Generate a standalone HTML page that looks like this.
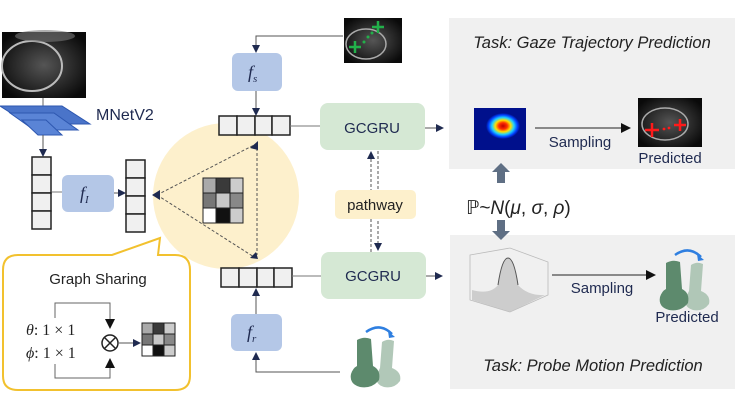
<!DOCTYPE html>
<html><head><meta charset="utf-8"><style>
html,body{margin:0;padding:0;background:#fff;}
svg{display:block;}
text{font-family:"Liberation Sans","DejaVu Sans",sans-serif;}
.m{font-family:"Liberation Serif","DejaVu Serif",serif;font-style:italic;}
</style></head><body>
<svg width="748" height="420" viewBox="0 0 748 420" xmlns="http://www.w3.org/2000/svg">
<defs>
<marker id="ah" markerWidth="8" markerHeight="8" refX="7" refY="4" orient="auto" markerUnits="userSpaceOnUse"><path d="M0,0 L8,4 L0,8 z" fill="#1f2a50"/></marker>
<marker id="ab" markerWidth="10" markerHeight="10" refX="9" refY="5" orient="auto" markerUnits="userSpaceOnUse"><path d="M0,0 L10,5 L0,10 z" fill="#111"/></marker>
<radialGradient id="heat"><stop offset="0" stop-color="#c00000"/><stop offset="0.25" stop-color="#ff3000"/><stop offset="0.45" stop-color="#ffe000"/><stop offset="0.65" stop-color="#20d0ff"/><stop offset="0.85" stop-color="#0040ff"/><stop offset="1" stop-color="#00108c"/></radialGradient>
<radialGradient id="us" cx="0.5" cy="0.5" r="0.6"><stop offset="0" stop-color="#555"/><stop offset="1" stop-color="#0a0a0a"/></radialGradient>
<g id="probe">
 <path d="M32,14 Q38,10 44,13 L42,40 Q52,44 50,53 Q44,61 34,59 Q24,56 27,46 L30,40 Z" fill="#a9c2b0" opacity="0.9"/>
 <path d="M7,12 Q14,8 21,11 L23,38 Q31,42 29,52 Q22,61 10,59 Q-1,56 1,46 Q3,40 7,38 Z" fill="#5d8a6d"/>
 <path d="M16,4 Q30,-6 42,6" fill="none" stroke="#2f7fe0" stroke-width="2.5"/>
 <path d="M38,3 L45,9 L39,10 Z" fill="#2f7fe0"/>
</g>
</defs>

<rect x="449" y="18" width="286" height="151" fill="#f0f0f0"/>
<rect x="450" y="235" width="285" height="154" fill="#f0f0f0"/>

<rect x="2" y="32" width="84" height="66" fill="url(#us)"/>
<ellipse cx="32" cy="66" rx="30" ry="25" fill="none" stroke="#bbb" stroke-width="2"/>
<ellipse cx="45" cy="36" rx="30" ry="6" fill="#777" opacity="0.6"/>
<line x1="43" y1="98" x2="43" y2="106" stroke="#666"/>

<polygon points="0,106 62,106 90,124 28,124" fill="#4a74c9" stroke="#2d57b0"/>
<polygon points="10,113 54,113 78,130 34,130" fill="#5a84d6" stroke="#2d57b0"/>
<polygon points="22,120 46,120 62,135 38,135" fill="#5a84d6" stroke="#2d57b0"/>
<text x="96" y="120" font-size="16" fill="#1f2a50">MNetV2</text>
<line x1="43" y1="135" x2="43" y2="156" stroke="#555" marker-end="url(#ah)"/>

<g fill="#f0f0f0" stroke="#222" stroke-width="1.5">
<rect x="32" y="157" width="19" height="18"/><rect x="32" y="175" width="19" height="18"/><rect x="32" y="193" width="19" height="18"/><rect x="32" y="211" width="19" height="18"/>
</g>
<line x1="52" y1="192" x2="62" y2="192" stroke="#777"/>
<rect x="62" y="175" width="52" height="37" rx="6" fill="#b4c7e7"/>
<text x="80" y="199" class="m" font-size="18" fill="#1f2a50">f<tspan font-size="11" dy="4">I</tspan></text>
<line x1="114" y1="193" x2="125" y2="193" stroke="#555" marker-end="url(#ah)"/>
<g fill="#f0f0f0" stroke="#222" stroke-width="1.5">
<rect x="126" y="160" width="19" height="18"/><rect x="126" y="178" width="19" height="18"/><rect x="126" y="196" width="19" height="18"/><rect x="126" y="214" width="19" height="18"/>
</g>

<circle cx="226" cy="196" r="73" fill="#fdf0cc"/>
<g stroke="#555" stroke-dasharray="3,2" stroke-width="1">
<line x1="157" y1="195" x2="254" y2="145"/><line x1="157" y1="195" x2="254" y2="257"/><line x1="257" y1="148" x2="257" y2="255"/>
</g>
<polygon points="152,195 160,190 160,200" fill="#1f2a50"/>
<polygon points="258,141 258,150 250,148" fill="#1f2a50"/>
<polygon points="258,259 256,252 250,258" fill="#1f2a50"/>
<g stroke="#222" stroke-width="1">
<rect x="203" y="178" width="13" height="15" fill="#aaa"/><rect x="216" y="178" width="14" height="15" fill="#3a3a3a"/><rect x="230" y="178" width="13" height="15" fill="#ccc"/>
<rect x="203" y="193" width="13" height="15" fill="#777"/><rect x="216" y="193" width="14" height="15" fill="#c8c8c8"/><rect x="230" y="193" width="13" height="15" fill="#888"/>
<rect x="203" y="208" width="13" height="15" fill="#fff"/><rect x="216" y="208" width="14" height="15" fill="#111"/><rect x="230" y="208" width="13" height="15" fill="#ccc"/>
</g>

<path d="M18,255 L112,255 L160,238 L158,255 L175,255 Q190,255 190,270 L190,376 Q190,390 175,390 L18,390 Q3,390 3,376 L3,270 Q3,255 18,255 Z" fill="#fff" stroke="#f2c12e" stroke-width="2"/>
<text x="98" y="284" font-size="15" fill="#222" text-anchor="middle">Graph Sharing</text>
<text x="26" y="335" class="m" font-size="16" fill="#222">θ<tspan font-style="normal">: 1 × 1</tspan></text>
<text x="26" y="358" class="m" font-size="16" fill="#222">ϕ<tspan font-style="normal">: 1 × 1</tspan></text>
<polyline points="55,318 55,303 110,303 110,328" fill="none" stroke="#666" marker-end="url(#ab)"/>
<polyline points="55,364 55,378 110,378 110,359" fill="none" stroke="#666" marker-end="url(#ab)"/>
<circle cx="110" cy="343" r="8" fill="none" stroke="#222" stroke-width="1.5"/>
<path d="M104,337 L116,349 M116,337 L104,349" stroke="#222" stroke-width="1.5"/>
<line x1="119" y1="343" x2="140" y2="343" stroke="#555" marker-end="url(#ah)"/>
<g stroke="#222" stroke-width="1">
<rect x="142" y="323" width="11" height="11" fill="#aaa"/><rect x="153" y="323" width="11" height="11" fill="#3a3a3a"/><rect x="164" y="323" width="11" height="11" fill="#ccc"/>
<rect x="142" y="334" width="11" height="11" fill="#777"/><rect x="153" y="334" width="11" height="11" fill="#c8c8c8"/><rect x="164" y="334" width="11" height="11" fill="#888"/>
<rect x="142" y="345" width="11" height="11" fill="#fff"/><rect x="153" y="345" width="11" height="11" fill="#111"/><rect x="164" y="345" width="11" height="11" fill="#ccc"/>
</g>

<polyline points="343,36 256,36 256,52" fill="none" stroke="#555" marker-end="url(#ah)"/>
<rect x="232" y="53" width="50" height="38" rx="6" fill="#b4c7e7"/>
<text x="248" y="78" class="m" font-size="18" fill="#1f2a50">f<tspan font-size="11" dy="4">s</tspan></text>
<line x1="256" y1="91" x2="256" y2="115" stroke="#555" marker-end="url(#ah)"/>
<g fill="#f0f0f0" stroke="#222" stroke-width="1.5">
<rect x="219" y="116" width="18" height="19"/><rect x="237" y="116" width="18" height="19"/><rect x="255" y="116" width="17" height="19"/><rect x="272" y="116" width="18" height="19"/>
</g>
<line x1="290" y1="126" x2="320" y2="126" stroke="#777"/>

<g fill="#f0f0f0" stroke="#222" stroke-width="1.5">
<rect x="221" y="268" width="18" height="19"/><rect x="239" y="268" width="18" height="19"/><rect x="257" y="268" width="17" height="19"/><rect x="274" y="268" width="18" height="19"/>
</g>
<line x1="292" y1="276" x2="321" y2="276" stroke="#777"/>
<line x1="256" y1="314" x2="256" y2="289" stroke="#555" marker-end="url(#ah)"/>
<rect x="231" y="314" width="51" height="37" rx="6" fill="#b4c7e7"/>
<text x="247" y="338" class="m" font-size="18" fill="#1f2a50">f<tspan font-size="11" dy="4">r</tspan></text>
<polyline points="340,372 256,372 256,353" fill="none" stroke="#555" marker-end="url(#ah)"/>

<rect x="344" y="18" width="58" height="45" fill="url(#us)"/>
<ellipse cx="366" cy="44" rx="20" ry="15" fill="none" stroke="#aaa" stroke-width="1.5"/>
<g stroke="#22b04a" stroke-width="2.5">
<path d="M349,47 h12 M355,41 v12 M372,27 h12 M378,21 v12"/>
</g>
<g fill="#22b04a"><circle cx="364" cy="42" r="1.5"/><circle cx="368" cy="37" r="1.5"/><circle cx="372" cy="33" r="1.5"/></g>

<rect x="320" y="103" width="105" height="47" rx="8" fill="#d5e8d4"/>
<text x="372" y="133" font-size="15" fill="#1f2a50" text-anchor="middle">GCGRU</text>
<rect x="321" y="252" width="105" height="47" rx="8" fill="#d5e8d4"/>
<text x="373" y="281" font-size="15" fill="#1f2a50" text-anchor="middle">GCGRU</text>
<line x1="425" y1="128" x2="443" y2="128" stroke="#555" marker-end="url(#ah)"/>
<line x1="426" y1="276" x2="442" y2="276" stroke="#555" marker-end="url(#ah)"/>
<line x1="371" y1="252" x2="371" y2="152" stroke="#555" stroke-dasharray="3,2" marker-end="url(#ah)"/>
<line x1="378" y1="151" x2="378" y2="250" stroke="#555" stroke-dasharray="3,2" marker-end="url(#ah)"/>
<rect x="335" y="190" width="81" height="29" rx="5" fill="#fdf0cc"/>
<text x="375" y="210" font-size="15" fill="#222" text-anchor="middle">pathway</text>

<use href="#probe" x="350" y="328"/>

<text x="592" y="48" font-size="16.5" font-style="italic" fill="#222" text-anchor="middle">Task: Gaze Trajectory Prediction</text>
<rect x="474" y="108" width="52" height="42" fill="#00108c"/>
<ellipse cx="503" cy="126" rx="17" ry="13" fill="url(#heat)"/>
<line x1="535" y1="128" x2="630" y2="128" stroke="#222" marker-end="url(#ab)"/>
<text x="580" y="147" font-size="15" fill="#1f2a50" text-anchor="middle">Sampling</text>
<rect x="638" y="98" width="64" height="49" fill="url(#us)"/>
<ellipse cx="665" cy="124" rx="23" ry="16" fill="none" stroke="#aaa" stroke-width="1.5"/>
<g stroke="#ff1a1a" stroke-width="2.5"><path d="M645,130 h14 M652,123 v14 M674,125 h12 M680,119 v12"/></g>
<g fill="#ff1a1a"><circle cx="664" cy="129" r="1.4"/><circle cx="669" cy="128" r="1.4"/></g>
<text x="670" y="163" font-size="15" fill="#1f2a50" text-anchor="middle">Predicted</text>

<polygon points="501,163 510,172 505,172 505,183 497,183 497,172 492,172" fill="#5f6f84"/>
<text x="466" y="214" font-size="19" fill="#222" font-family="Liberation Serif,serif">ℙ~<tspan font-style="italic">N</tspan>(<tspan font-style="italic">μ</tspan>, <tspan font-style="italic">σ</tspan>, <tspan font-style="italic">ρ</tspan>)</text>
<polygon points="501,240 510,231 505,231 505,220 497,220 497,231 492,231" fill="#5f6f84"/>

<path d="M470,255 L510,248 L548,262 L548,295 L510,312 L470,300 Z" fill="none" stroke="#bbb" stroke-width="0.8"/>
<path d="M472,290 Q490,295 498,285 Q502,258 508,258 Q514,258 518,285 Q528,296 545,295 L510,312 L472,300 Z" fill="#c4c4c4" opacity="0.8"/>
<path d="M498,285 Q502,258 508,258 Q514,258 518,285" fill="none" stroke="#555" stroke-width="1"/>
<line x1="552" y1="275" x2="655" y2="275" stroke="#222" marker-end="url(#ab)"/>
<text x="602" y="293" font-size="15" fill="#1f2a50" text-anchor="middle">Sampling</text>
<use href="#probe" x="659" y="251"/>
<text x="687" y="322" font-size="15" fill="#1f2a50" text-anchor="middle">Predicted</text>
<text x="593" y="371" font-size="16.5" font-style="italic" fill="#222" text-anchor="middle">Task: Probe Motion Prediction</text>
</svg>
</body></html>
